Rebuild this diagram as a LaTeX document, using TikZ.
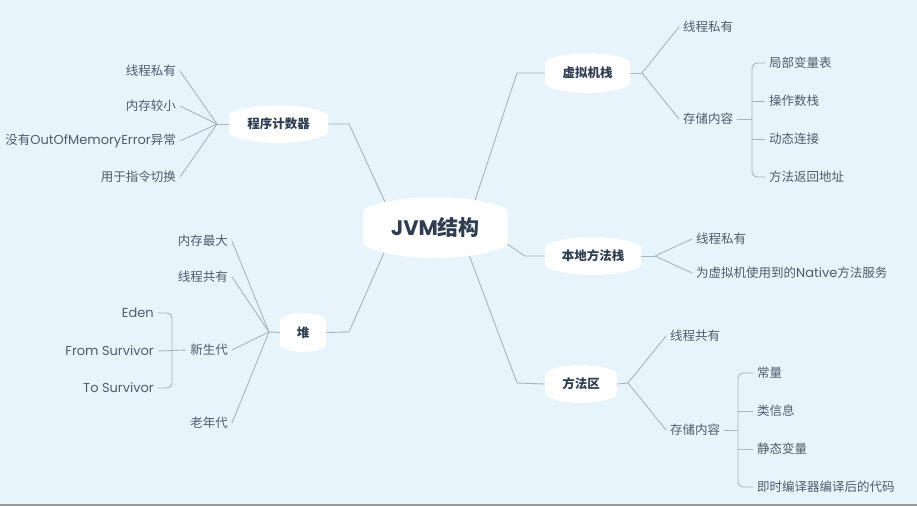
\documentclass[tikz,border=0pt]{standalone}
\usepackage{fontspec}
\setmainfont{Poppins}
\newfontfamily\cjk{Noto Sans CJK SC}
\newcommand\zh[1]{{\cjk #1}}
\newcommand\lat[1]{{\fontsize{13}{14}\selectfont #1}}
\usetikzlibrary{calc}
\pgfdeclarelayer{bg}
\pgfsetlayers{bg,main}
\definecolor{bgc}{RGB}{232,244,251}
\definecolor{lnc}{RGB}{168,180,194}
\definecolor{leaftxt}{RGB}{78,92,108}
\definecolor{boldtxt}{RGB}{46,62,80}
\tikzset{
  leafR/.style={anchor=west,inner xsep=4pt,inner ysep=2pt,font=\fontsize{12.5}{14}\selectfont,text=leaftxt},
  leafL/.style={anchor=east,inner xsep=4pt,inner ysep=2pt,font=\fontsize{12.5}{14}\selectfont,text=leaftxt},
  conn/.style={draw=lnc,line width=0.9pt},
  brk/.style={conn,rounded corners=5pt},
  topic/.style={font=\fontsize{12.5}{14}\selectfont\bfseries,text=boldtxt,inner sep=0pt}
}
\newcommand\topicbox[7]{%
  \pgfmathsetmacro\bL{#2-#4}%
  \pgfmathsetmacro\bR{#2+#4}%
  \pgfmathsetmacro\bT{#3-#5}%
  \pgfmathsetmacro\bB{#3+#5}%
  \pgfmathsetmacro\bb{0.14*#4}%
  \pgfmathsetmacro\xa{\bL+#6}%
  \pgfmathsetmacro\xb{\bR-#6}%
  \pgfmathsetmacro\xc{\bL+0.6*#4}%
  \pgfmathsetmacro\xd{\bR-0.6*#4}%
  \pgfmathsetmacro\tE{\bT+0.85*\bb}%
  \pgfmathsetmacro\tK{\bT-0.2833*\bb}%
  \pgfmathsetmacro\sl{(\tE-\tK)/(\xc-\xa)}%
  \pgfmathsetmacro\tC{\tE+\sl*#6}%
  \pgfmathsetmacro\tA{\tC+0.6*#6}%
  \pgfmathsetmacro\uE{\bB-0.85*\bb}%
  \pgfmathsetmacro\uK{\bB+0.2833*\bb}%
  \pgfmathsetmacro\uC{\uE-\sl*#6}%
  \pgfmathsetmacro\uA{\uC-0.6*#6}%
  \fill[white] (\bL,\tA) .. controls (\bL,\tC) .. (\xa,\tE) .. controls (\xc,\tK) and (\xd,\tK) .. (\xb,\tE) .. controls (\bR,\tC) .. (\bR,\tA) -- (\bR,\uA) .. controls (\bR,\uC) .. (\xb,\uE) .. controls (\xd,\uK) and (\xc,\uK) .. (\xa,\uE) .. controls (\bL,\uC) .. (\bL,\uA) -- cycle;
  \node[topic,minimum width={2*#4pt},minimum height={2*#5pt}] (#1) at (#2,#3) {#7};
}
\begin{document}
\begin{tikzpicture}[x=1pt,y=-1pt]
\useasboundingbox (0,0) rectangle (917,506);
\fill[black!40] (0,503.5) rectangle (917,506);

% topic boxes
\topicbox{c}{435.5}{227.5}{72.5}{30.5}{10}{\fontsize{21}{24}\selectfont JVM\zh{结构}}
\topicbox{pcb}{278.5}{124}{49.5}{19}{7}{\zh{程序计数器}}
\topicbox{hp}{303}{332.5}{23}{19.5}{6}{\zh{堆}}
\topicbox{vm}{587.5}{73}{42.5}{20}{7}{\zh{虚拟机栈}}
\topicbox{nm}{593}{256}{48}{19}{7}{\zh{本地方法栈}}
\topicbox{ma}{581}{384}{36}{19}{7}{\zh{方法区}}

% bends from center
\coordinate (c1) at (349,124);
\coordinate (c2) at (349,332);
\coordinate (c3) at (517,73);
\coordinate (c4) at (525,256);
\coordinate (c5) at (517,383);

% program counter leaves
\coordinate (jp) at (217,124);
\node[leafL] (p1) at (180,71) {\zh{线程私有}};
\node[leafL] (p2) at (180,106) {\zh{内存较小}};
\node[leafL] (p3) at (180,141) {\zh{没有}\lat{OutOfMemoryError}\zh{异常}};
\node[leafL] (p4) at (180,177) {\zh{用于指令切换}};

% heap leaves
\coordinate (jh) at (269,332);
\node[leafL] (h1) at (232,241) {\zh{内存最大}};
\node[leafL] (h2) at (232,277) {\zh{线程共有}};
\node[leafL] (h3) at (232,350) {\zh{新生代}};
\node[leafL] (h4) at (232,423) {\zh{老年代}};
\coordinate (kh) at (172,351);
\node[leafL] (e1) at (158,313) {\lat{Eden}};
\node[leafL] (e2) at (158,351) {\lat{From Survivor}};
\node[leafL] (e3) at (158,388) {\lat{To Survivor}};

% VM stack leaves
\coordinate (jv) at (642,73);
\node[leafR] (v1) at (679,27) {\zh{线程私有}};
\node[leafR] (v2) at (679,119) {\zh{存储内容}};
\coordinate (kv) at (752,119);
\node[leafR] (v21) at (765,63) {\zh{局部变量表}};
\node[leafR] (v22) at (765,101) {\zh{操作数栈}};
\node[leafR] (v23) at (765,139) {\zh{动态连接}};
\node[leafR] (v24) at (765,177) {\zh{方法返回地址}};

% native stack leaves
\coordinate (jn) at (655,256);
\node[leafR] (n1) at (692,239) {\zh{线程私有}};
\node[leafR] (n2) at (692,273) {\zh{为虚拟机使用到的}\lat{Native}\zh{方法服务}};

% method area leaves
\coordinate (jm) at (628,383);
\node[leafR] (m1) at (666,336) {\zh{线程共有}};
\node[leafR] (m2) at (666,430) {\zh{存储内容}};
\coordinate (km) at (738,430);
\node[leafR] (m21) at (753,373) {\zh{常量}};
\node[leafR] (m22) at (753,411) {\zh{类信息}};
\node[leafR] (m23) at (753,449) {\zh{静态变量}};
\node[leafR] (m24) at (753,487) {\zh{即时编译器编译后的代码}};

\begin{pgfonlayer}{bg}
\fill[bgc] (0,0) rectangle (917,503.5);
% center connectors
\draw[conn] (pcb.east) -- (c1) -- ($(c.center)+(-38.5,0.5)$);
\draw[conn] (hp.east) -- (c2) -- ($(c.center)+(-40.5,0.5)$);
\draw[conn] (vm.west) -- (c3) -- ($(c.center)+(30.5,0.5)$);
\draw[conn] (nm.west) -- (c4) -- ($(c.east)+(-5,14)$);
\draw[conn] (ma.west) -- (c5) -- ($(c.center)+(23.5,0.5)$);
% program counter
\foreach \n in {p1,p2,p3,p4} \draw[conn] (\n.east) -- (jp);
\draw[conn] (jp) -- (pcb.west);
% heap
\foreach \n in {h1,h2,h3,h4} \draw[conn] (\n.east) -- (jh);
\draw[conn] (jh) -- (hp.west);
\draw[brk] (e1.east) -| (kh) |- (e3.east);
\draw[conn] (e2.east) -- (h3.west);
% VM stack
\draw[conn] (vm.east) -- (jv);
\draw[conn] (jv) -- (v1.west);
\draw[conn] (jv) -- (v2.west);
\draw[conn] (v2.east) -- (kv);
\draw[brk] (v21.west) -| (kv) |- (v24.west);
\draw[conn] (v22.west) -- (v22.west -| kv);
\draw[conn] (v23.west) -- (v23.west -| kv);
% native
\draw[conn] (nm.east) -- (jn);
\draw[conn] (jn) -- (n1.west);
\draw[conn] (jn) -- (n2.west);
% method area
\draw[conn] (ma.east) -- (jm);
\draw[conn] (jm) -- (m1.west);
\draw[conn] (jm) -- (m2.west);
\draw[conn] (m2.east) -- (km);
\draw[brk] (m21.west) -| (km) |- (m24.west);
\draw[conn] (m22.west) -- (m22.west -| km);
\draw[conn] (m23.west) -- (m23.west -| km);
\end{pgfonlayer}
\end{tikzpicture}
\end{document}
